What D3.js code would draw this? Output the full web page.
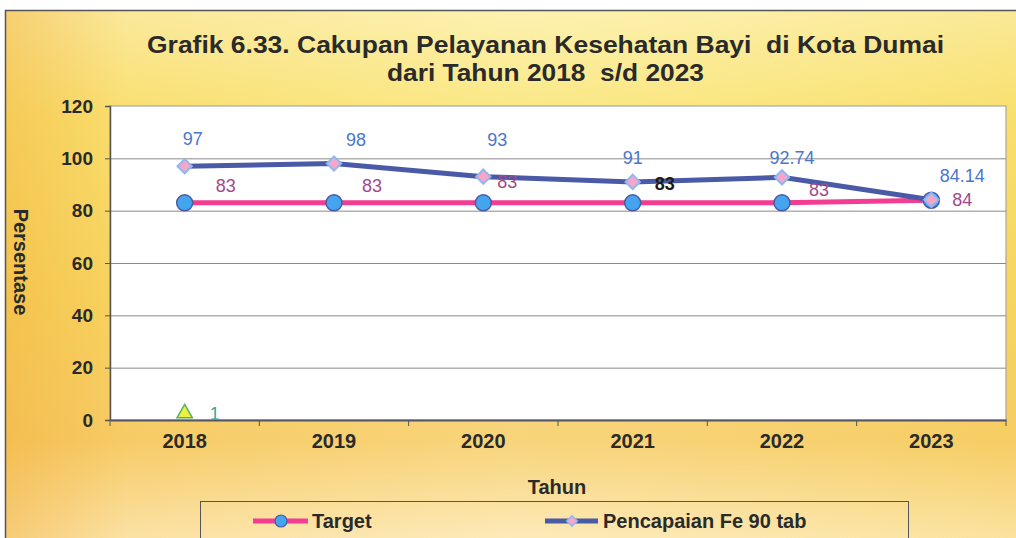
<!DOCTYPE html>
<html>
<head>
<meta charset="utf-8">
<script src="https://cdn.jsdelivr.net/npm/d3@7"></script>
<style>
  body { margin: 0; background: #fff; }
  svg text { font-family: "Liberation Sans", Arial, sans-serif; }
</style>
</head>
<body>
<div id="chart"></div>
<script>
let years = ["2018", "2019", "2020", "2021", "2022", "2023"];
let target = [83, 83, 83, 83, 83, 84];
let pencapaian = [97, 98, 93, 91, 92.74, 84.14];
let extraSeries = [1];   // lone triangle point at 2018
let yTicks = [0, 20, 40, 60, 80, 100, 120];

// hand-placed label nudges (px) as in the original sheet
let targetNudge = [[41, -17], [38, -17], [24, -21], [32, -19], [37, -13], [31, 0]];
let pencNudge = [[8, -27], [22, -24], [14, -37], [0, -24], [10, -19], [31, -24]];

let width = 1016, height = 538;
let margin = {top: 106, right: 10, bottom: 118, left: 110};

let svg = d3.select("#chart").append("svg")
.attr("width", width)
.attr("height", height);

let defs = svg.append("defs");
let bg = defs.append("linearGradient").attr("id", "bg")
.attr("x1", 0).attr("y1", 0).attr("x2", 0).attr("y2", 1);
bg.append("stop").attr("offset", "0%").attr("stop-color", "#fcf0a8");
bg.append("stop").attr("offset", "20%").attr("stop-color", "#fae575");
bg.append("stop").attr("offset", "55%").attr("stop-color", "#f8d865");
bg.append("stop").attr("offset", "80%").attr("stop-color", "#f7cf6c");
bg.append("stop").attr("offset", "100%").attr("stop-color", "#fdeab8");

let side = defs.append("linearGradient").attr("id", "side")
.attr("x1", 0).attr("y1", 0).attr("x2", 1).attr("y2", 0);
side.append("stop").attr("offset", "0%").attr("stop-color", "#f0a830").attr("stop-opacity", 0.45);
side.append("stop").attr("offset", "12%").attr("stop-color", "#f0a830").attr("stop-opacity", 0.1);
side.append("stop").attr("offset", "50%").attr("stop-color", "#ffffff").attr("stop-opacity", 0.1);
side.append("stop").attr("offset", "100%").attr("stop-color", "#f0c030").attr("stop-opacity", 0.15);

svg.append("rect")
.attr("x", 5).attr("y", 10)
.attr("width", width).attr("height", height)
.attr("fill", "url(#bg)");
svg.append("rect")
.attr("x", 5).attr("y", 10)
.attr("width", width).attr("height", height)
.attr("fill", "url(#side)");
// frame (top + left)
svg.append("path")
.attr("d", `M5.5,${height} V10.5 H${width}`)
.attr("fill", "none")
.attr("stroke", "#555")
.attr("stroke-width", 1.5);

let x = d3.scaleBand()
.domain(years)
.range([margin.left, width - margin.right])
.padding(0);

let y = d3.scaleLinear()
.domain([0, 120])
.range([height - margin.bottom, margin.top]);

let cx = d => x(d) + x.bandwidth() / 2;

// plot area
svg.append("rect")
.attr("x", margin.left).attr("y", margin.top)
.attr("width", width - margin.right - margin.left)
.attr("height", y(0) - margin.top)
.attr("fill", "#fff")
.attr("stroke", "#999")
.attr("stroke-width", 1);

// gridlines
svg.append("g")
.selectAll("line")
.data(yTicks.filter(d => d > 0 && d < 120))
.enter().append("line")
.attr("x1", margin.left).attr("x2", width - margin.right)
.attr("y1", d => y(d) + 0.5).attr("y2", d => y(d) + 0.5)
.attr("stroke", "#8a8a8a")
.attr("stroke-width", 1);

// y axis
let yAxis = svg.append("g")
.attr("transform", `translate(${margin.left},0)`)
.call(d3.axisLeft(y).tickValues(yTicks).tickSize(5).tickPadding(12));
yAxis.select(".domain").attr("stroke", "#555").attr("stroke-width", 1.5);
yAxis.selectAll(".tick line").attr("stroke", "#555");
yAxis.selectAll("text")
.style("font-size", "19px").style("font-weight", "bold").attr("fill", "#2a2a2a");

// x axis, ticks between categories
let xAxis = svg.append("g")
.attr("transform", `translate(0,${y(0)})`)
.call(d3.axisBottom(x).tickSize(0).tickPadding(14));
xAxis.select(".domain").attr("stroke", "#556").attr("stroke-width", 2);
xAxis.selectAll("text")
.style("font-size", "20px").style("font-weight", "bold").attr("fill", "#2a2a2a");
xAxis.selectAll(".sep")
.data(years.concat(["end"]))
.enter().append("line")
.attr("x1", (d, i) => margin.left + i * x.bandwidth())
.attr("x2", (d, i) => margin.left + i * x.bandwidth())
.attr("y1", 0).attr("y2", 6)
.attr("stroke", "#555");

// lines
let line = d3.line()
.x((d, i) => cx(years[i]))
.y(d => y(d));

svg.append("path")
.datum(target)
.attr("d", line)
.attr("fill", "none")
.attr("stroke", "#f23d92")
.attr("stroke-width", 5);

svg.append("path")
.datum(pencapaian)
.attr("d", line)
.attr("fill", "none")
.attr("stroke", "#4b5aa6")
.attr("stroke-width", 5);

// target markers
svg.append("g")
.selectAll("circle")
.data(target)
.enter().append("circle")
.attr("cx", (d, i) => cx(years[i]))
.attr("cy", d => y(d))
.attr("r", 8)
.attr("fill", "#45a4ee")
.attr("stroke", "#4b5aa6")
.attr("stroke-width", 1.5);

// pencapaian markers
let diamond = d3.symbol().type(d3.symbolDiamond2).size(130);
svg.append("g")
.selectAll("path")
.data(pencapaian)
.enter().append("path")
.attr("d", diamond)
.attr("transform", (d, i) => `translate(${cx(years[i])},${y(d)})`)
.attr("fill", "#f6a6c8")
.attr("stroke", "#8fb8f2")
.attr("stroke-width", 2);

// third series point
svg.append("g")
.selectAll("path")
.data(extraSeries)
.enter().append("path")
.attr("d", d3.symbol().type(d3.symbolTriangle2).size(170))
.attr("transform", (d, i) => `translate(${cx(years[i])},${y(d) - 4})`)
.attr("fill", "#eef040")
.attr("stroke", "#58b068")
.attr("stroke-width", 1.5);

svg.append("g")
.selectAll("text")
.data(extraSeries)
.enter().append("text")
.attr("x", (d, i) => cx(years[i]) + 30)
.attr("y", d => y(d) + 3)
.attr("text-anchor", "middle")
.style("font-size", "18px")
.attr("fill", "#3aa890")
.text(d => d);

// data labels
svg.append("g")
.selectAll("text")
.data(pencapaian)
.enter().append("text")
.attr("x", (d, i) => cx(years[i]) + pencNudge[i][0])
.attr("y", (d, i) => y(d) + pencNudge[i][1] + 6)
.attr("text-anchor", "middle")
.style("font-size", "18px")
.attr("fill", "#4a76cc")
.text(d => d);

svg.append("g")
.selectAll("text")
.data(target)
.enter().append("text")
.attr("x", (d, i) => cx(years[i]) + targetNudge[i][0])
.attr("y", (d, i) => y(d) + targetNudge[i][1] + 6)
.attr("text-anchor", "middle")
.style("font-size", "18px")
.style("font-weight", (d, i) => i == 3 ? "bold" : "normal")
.attr("fill", (d, i) => i == 3 ? "#1a1a1a" : "#a2488a")
.text(d => d);

// titles (original uses a tall narrow face, stretched to fit)
svg.append("text")
.attr("x", 147).attr("y", 53)
.attr("textLength", 797).attr("lengthAdjust", "spacingAndGlyphs")
.style("font-size", "24px").style("font-weight", "bold")
.attr("fill", "#2a2a2a")
.text("Grafik 6.33. Cakupan Pelayanan Kesehatan Bayi\u00a0 di Kota Dumai");
svg.append("text")
.attr("x", 387).attr("y", 81)
.attr("textLength", 317).attr("lengthAdjust", "spacingAndGlyphs")
.style("font-size", "24px").style("font-weight", "bold")
.attr("fill", "#2a2a2a")
.text("dari Tahun 2018\u00a0 s/d 2023");

svg.append("text")
.attr("x", 557).attr("y", 494)
.attr("text-anchor", "middle")
.style("font-size", "20px").style("font-weight", "bold")
.attr("fill", "#2a2a2a")
.text("Tahun");

svg.append("text")
.attr("transform", "translate(14,262) rotate(90)")
.attr("text-anchor", "middle")
.style("font-size", "20px").style("font-weight", "bold")
.attr("fill", "#2a2a2a")
.text("Persentase");

// legend
let legend = svg.append("g");
legend.append("rect")
.attr("x", 200.5).attr("y", 501.5)
.attr("width", 708).attr("height", 60)
.attr("fill", "none")
.attr("stroke", "#555")
.attr("stroke-width", 1);

legend.append("line")
.attr("x1", 253).attr("x2", 308).attr("y1", 521).attr("y2", 521)
.attr("stroke", "#f23d92").attr("stroke-width", 5);
legend.append("circle")
.attr("cx", 281).attr("cy", 521).attr("r", 6)
.attr("fill", "#45a4ee").attr("stroke", "#4b5aa6").attr("stroke-width", 1.2);
legend.append("text")
.attr("x", 312).attr("y", 528)
.style("font-size", "20px").style("font-weight", "bold")
.attr("fill", "#2a2a2a")
.text("Target");

legend.append("line")
.attr("x1", 545).attr("x2", 598).attr("y1", 521).attr("y2", 521)
.attr("stroke", "#4b5aa6").attr("stroke-width", 5);
legend.append("path")
.attr("d", d3.symbol().type(d3.symbolDiamond2).size(70))
.attr("transform", "translate(572,521)")
.attr("fill", "#f6a6c8").attr("stroke", "#8fb8f2").attr("stroke-width", 1.5);
legend.append("text")
.attr("x", 603).attr("y", 528)
.style("font-size", "20px").style("font-weight", "bold")
.attr("fill", "#2a2a2a")
.text("Pencapaian Fe 90 tab");
</script>
</body>
</html>
